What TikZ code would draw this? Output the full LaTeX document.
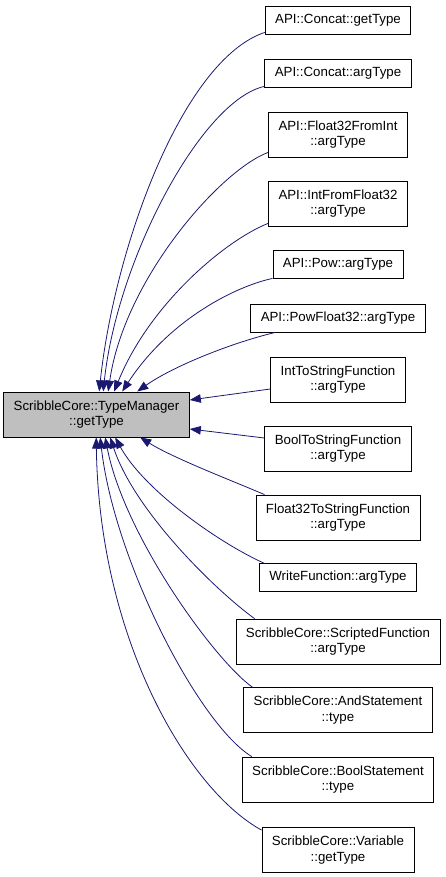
\documentclass[tikz,border=0pt]{standalone}
\usepackage{fontspec}
\setmainfont{Liberation Sans}
\usetikzlibrary{arrows.meta,calc}
\definecolor{edgeblue}{HTML}{191970}
\definecolor{maingray}{HTML}{BFBFBF}
\begin{document}
\begin{tikzpicture}[x=1pt,y=-1pt,
  box/.style={draw=black, line width=0.8pt, fill=white, align=center,
    font=\fontsize{13.3}{15.5}\selectfont, inner xsep=10pt, inner ysep=0pt,
    minimum height=28pt},
  twoline/.style={box, minimum height=45pt},
  link/.style={draw=edgeblue, line width=0.8pt, -{Triangle[length=11pt,width=8.5pt]}}]
\useasboundingbox (0,0) rectangle (445,877);
\node[twoline, fill=maingray, line width=1pt] (main) at (96.5,414.5) {ScribbleCore::TypeManager\\::getType};
\node[box] (n1) at (338,20) {API::Concat::getType};
\node[box] (n2) at (338,73) {API::Concat::argType};
\node[twoline] (n3) at (338,134.5) {API::Float32FromInt\\::argType};
\node[twoline] (n4) at (338,203.5) {API::IntFromFloat32\\::argType};
\node[box] (n5) at (338,264) {API::Pow::argType};
\node[box] (n6) at (338,318) {API::PowFloat32::argType};
\node[twoline] (n7) at (338,379.5) {IntToStringFunction\\::argType};
\node[twoline] (n8) at (338,448.5) {BoolToStringFunction\\::argType};
\node[twoline] (n9) at (338,517.5) {Float32ToStringFunction\\::argType};
\node[box] (n10) at (338,577) {WriteFunction::argType};
\node[twoline] (n11) at (338,641.5) {ScribbleCore::ScriptedFunction\\::argType};
\node[twoline] (n12) at (338,710) {ScribbleCore::AndStatement\\::type};
\node[twoline] (n13) at (338,779.5) {ScribbleCore::BoolStatement\\::type};
\node[twoline] (n14) at (338,850) {ScribbleCore::Variable\\::getType};

\draw[link] ($(n1.south west)+(0,-2)$) .. controls +(-83,28) and +(15,-142) .. ($(main.north west)+(96,0)$);
\draw[link] ($(n2.south west)+(0,-1)$) .. controls +(-63,14) and +(14,-132) .. ($(main.north west)+(100,0)$);
\draw[link] ($(n3.south west)+(0,-5)$) .. controls +(-48,18) and +(16,-112) .. ($(main.north west)+(105,0)$);
\draw[link] ($(n4.south west)+(0,-3)$) .. controls +(-43,17) and +(35,-87) .. ($(main.north west)+(111,0)$);
\draw[link] (n5.south west) .. controls +(-37,8) and +(47,-72) .. ($(main.north west)+(119,0)$);
\draw[link] ($(n6.south west)+(25,0)$) .. controls +(-42,10) and +(37,-26) .. ($(main.north west)+(134,0)$);
\draw[link] ($(n7.west)+(0,9.5)$) -- ($(main.east)+(0,-14.5)$);
\draw[link] ($(n8.west)+(0,-10.5)$) -- ($(main.east)+(0,14.5)$);
\draw[link] ($(n9.north west)+(9,0)$) .. controls +(-35,-15) and +(34,21) .. ($(main.south west)+(137,0)$);
\draw[link] ($(n10.north west)+(6,1)$) .. controls +(-45,-20) and +(29,53) .. ($(main.south west)+(112,0)$);
\draw[link] ($(n11.north west)+(19,0)$) .. controls +(-40,-29) and +(24,73) .. ($(main.south west)+(107,0)$);
\draw[link] ($(n12.north west)+(9,0)$) .. controls +(-38,-27) and +(19,98) .. ($(main.south west)+(102,0)$);
\draw[link] ($(n13.north west)+(10,0)$) .. controls +(-53,-32) and +(14,123) .. ($(main.south west)+(97,0)$);
\draw[link] ($(n14.north west)+(0,3)$) .. controls +(-73,-40) and +(3,203) .. ($(main.south west)+(93,0)$);
\end{tikzpicture}
\end{document}
